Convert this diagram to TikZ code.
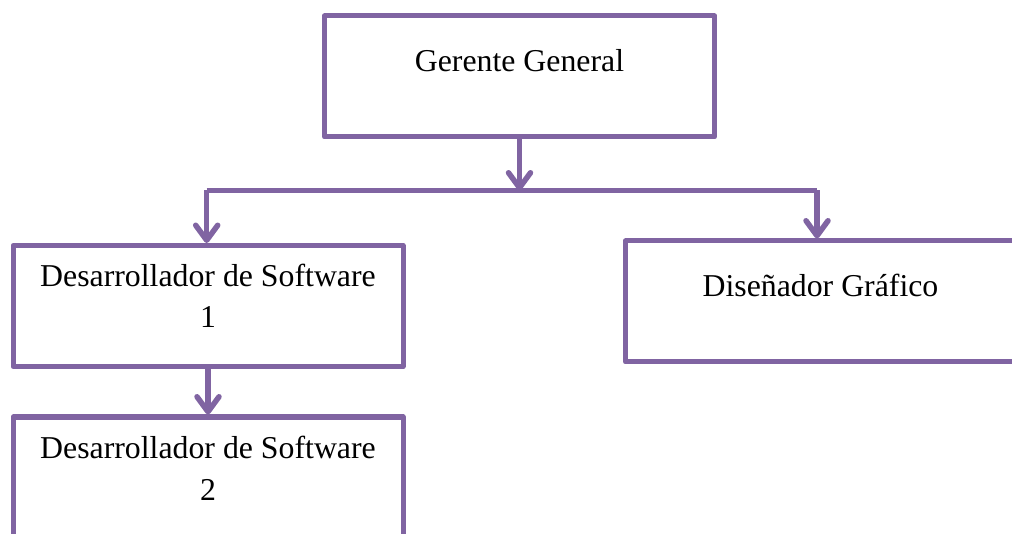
\documentclass[tikz,border=0pt]{standalone}
\usepackage{fontspec}
\setmainfont{Liberation Serif}
\usetikzlibrary{arrows.meta}
\definecolor{orgpurple}{HTML}{8064A2}
\begin{document}
\begin{tikzpicture}[x=1pt,y=-1pt,
  orgbox/.style={draw=orgpurple,line width=5pt,rectangle,inner sep=0pt,line join=round,
    minimum width=390pt,minimum height=121pt},
  boxtext/.style={anchor=base,align=center,inner sep=0pt,
    font=\fontsize{31.8}{41.5}\selectfont},
  conn/.style={draw=orgpurple,line width=5.5pt,
    -{Straight Barb[length=15pt,width=22pt,round]}},
  plain/.style={draw=orgpurple,line width=5.5pt,line join=miter}]
\useasboundingbox (0,0) rectangle (1012,534);
\begin{scope}
\clip (0,0) rectangle (1012,534);
\node[orgbox,label={[boxtext,yshift=-58.5pt]north:Gerente General}] (g) at (519.5,76.5) {};
\node[orgbox,label={[boxtext,yshift=-85pt]north:Desarrollador de Software\\1}] (d1) at (208,306) {};
\node[orgbox,label={[boxtext,yshift=-58.5pt]north:Diseñador Gráfico}] (dg) at (820.5,301.5) {};
\node[orgbox,label={[boxtext,yshift=-85.5pt]north:Desarrollador de Software\\2}] (d2) at (208,477.5) {};
\coordinate (j) at (519.5,190.5);
\coordinate (jl) at (206.7,190.5);
\coordinate (jr) at (817,190.5);
\draw[conn] (g.south) -- (j);
\draw[plain] (jl) -- (jr);
\draw[conn] (jl) -- (jl |- d1.north);
\draw[conn] (jr) -- (jr |- dg.north);
\draw[conn] (d1.south) -- (d2.north);
\end{scope}
\end{tikzpicture}
\end{document}
